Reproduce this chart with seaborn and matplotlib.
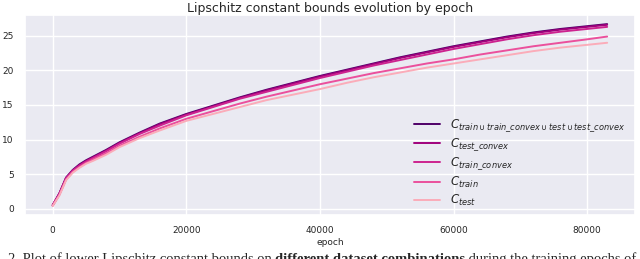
import matplotlib
matplotlib.use("Agg")
import matplotlib.pyplot as plt
import seaborn as sns
import pandas as pd

# epochs sampled along the curves
epochs = [0, 1000, 2000, 3000, 4000, 5000, 6000, 8000, 10000, 13000, 16000, 20000,
          24000, 28000, 32000, 36000, 40000, 44000, 48000, 52000, 56000, 60000,
          64000, 68000, 72000, 76000, 80000, 83000]

c_union = [0.5, 2.2, 4.5, 5.6, 6.4, 7.0, 7.5, 8.5, 9.6, 11.0, 12.3, 13.7, 14.9, 16.1,
           17.2, 18.2, 19.2, 20.1, 21.0, 21.9, 22.7, 23.5, 24.2, 24.9, 25.5, 26.0, 26.4, 26.7]
c_test_convex = [0.5, 2.2, 4.4, 5.5, 6.3, 6.9, 7.4, 8.4, 9.5, 10.9, 12.2, 13.6, 14.8, 16.0,
                 17.1, 18.1, 19.1, 20.0, 20.9, 21.8, 22.6, 23.4, 24.1, 24.8, 25.4, 25.9, 26.3, 26.6]
c_train_convex = [0.5, 2.1, 4.4, 5.5, 6.2, 6.8, 7.3, 8.3, 9.4, 10.8, 12.0, 13.5, 14.7, 15.9,
                  16.9, 17.9, 18.9, 19.8, 20.7, 21.5, 22.3, 23.1, 23.8, 24.5, 25.1, 25.6, 26.0, 26.3]
c_train = [0.4, 2.0, 4.2, 5.3, 6.0, 6.6, 7.1, 8.0, 9.1, 10.4, 11.6, 13.0, 14.1, 15.2,
           16.2, 17.1, 18.0, 18.8, 19.6, 20.3, 21.0, 21.6, 22.3, 22.9, 23.5, 24.0, 24.5, 24.9]
c_test = [0.4, 1.9, 4.1, 5.2, 5.9, 6.5, 6.9, 7.8, 8.9, 10.2, 11.3, 12.7, 13.7, 14.7,
          15.7, 16.5, 17.3, 18.2, 19.0, 19.7, 20.4, 21.0, 21.6, 22.2, 22.8, 23.3, 23.7, 24.0]

labels = [r"$C_{train \cup train\_convex \cup test \cup test\_convex}$",
          r"$C_{test\_convex}$",
          r"$C_{train\_convex}$",
          r"$C_{train}$",
          r"$C_{test}$"]
series = [c_union, c_test_convex, c_train_convex, c_train, c_test]

rows = []
for lab, vals in zip(labels, series):
    for e, v in zip(epochs, vals):
        rows.append({"epoch": e, "C value": v, "set": lab})
df = pd.DataFrame(rows)

rdpu = sns.color_palette("RdPu", 8)
colors = ["#4f0068", rdpu[6], rdpu[5], rdpu[4], rdpu[2]]

sns.set_theme(style="darkgrid")
fig = plt.figure(figsize=(6.4, 2.59), dpi=100)
ax = fig.add_axes([0.039, 0.17, 0.953, 0.772])

sns.lineplot(data=df, x="epoch", y="C value", hue="set", hue_order=labels,
             palette=colors, linewidth=1.4, ax=ax)

ax.set_title("Lipschitz constant bounds evolution by epoch", fontsize=9, pad=2)
ax.set_xlabel("epoch", fontsize=6.5, labelpad=2)
ax.set_ylabel("C value", fontsize=6.5, labelpad=1)
ax.tick_params(labelsize=6.5, pad=2)
ax.set_yticks([0, 5, 10, 15, 20, 25])

ax.legend(loc="lower right", bbox_to_anchor=(0.995, 0.0), frameon=False,
          fontsize=8.5, handlelength=2.2, labelspacing=0.22, borderaxespad=0.2)

# caption of the paper, cut off at the bottom of the picture
t1 = fig.text(0.012, 0.028, "2. Plot of lower Lipschitz constant bounds on ",
              family="Liberation Serif", fontsize=10.5, va="top")
t2 = ax.annotate("different dataset combinations", xy=(1, 0), xycoords=t1,
                 family="Liberation Serif", fontsize=10.5, fontweight="bold",
                 va="bottom", annotation_clip=False)
ax.annotate(" during the training epochs of", xy=(1, 0), xycoords=t2,
            family="Liberation Serif", fontsize=10.5, va="bottom", annotation_clip=False)

fig.savefig("out.png", dpi=100)
